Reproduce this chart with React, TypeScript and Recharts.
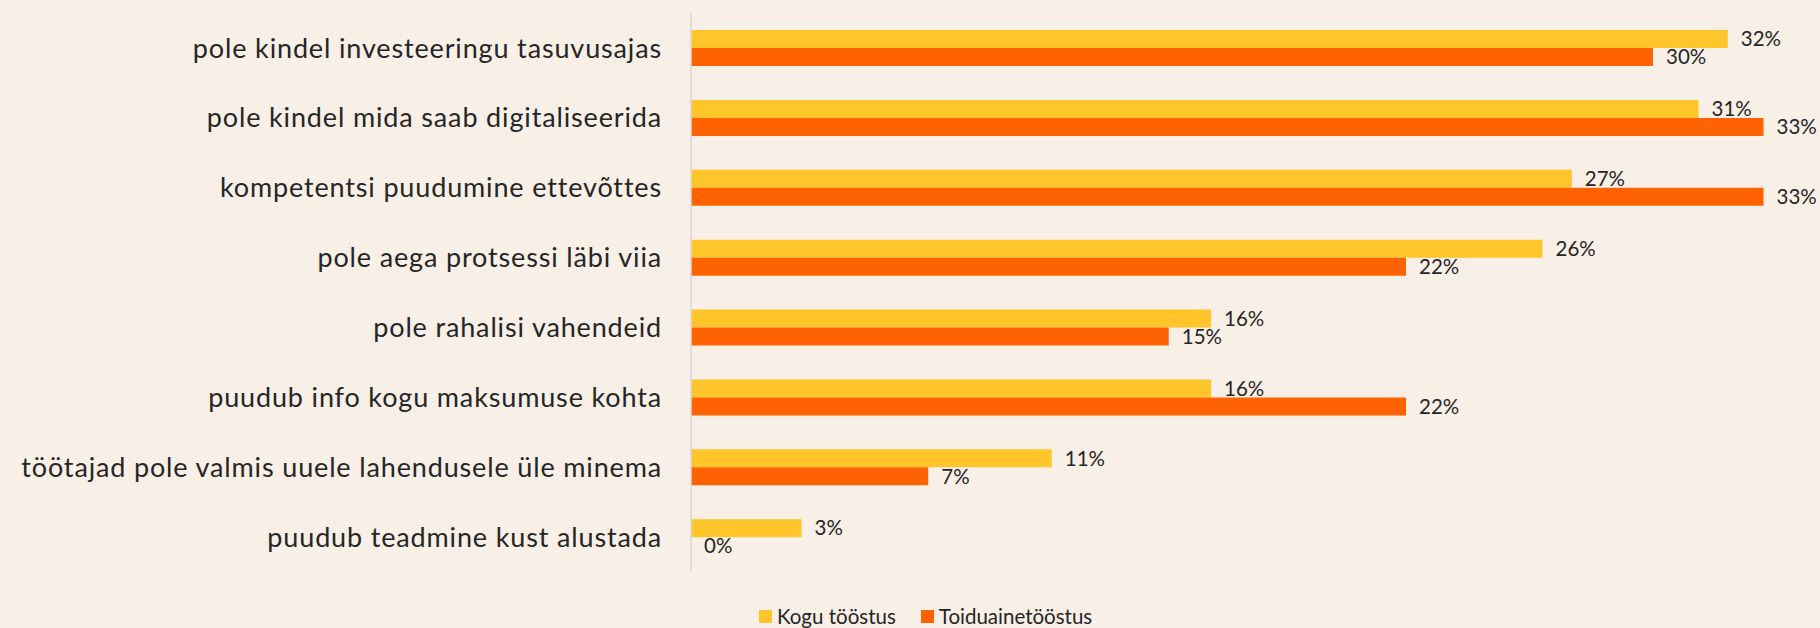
import React from 'react';
import { BarChart, Bar, XAxis, YAxis, Legend, LabelList } from 'recharts';

const categories = [
  'pole kindel investeeringu tasuvusajas',
  'pole kindel mida saab digitaliseerida',
  'kompetentsi puudumine ettevõttes',
  'pole aega protsessi läbi viia',
  'pole rahalisi vahendeid',
  'puudub info kogu maksumuse kohta',
  'töötajad pole valmis uuele lahendusele üle minema',
  'puudub teadmine kust alustada',
];
const koguValues = [31.9, 31.0, 27.1, 26.2, 16.0, 16.0, 11.1, 3.4];
const toiduValues = [29.6, 33.0, 33.0, 22.0, 14.7, 22.0, 7.3, 0];
const seriesNames = ['Kogu tööstus', 'Toiduainetööstus'];
const seriesColors = ['#FFC52A', '#FF6200'];

const data = categories.map((c, i) => ({ name: c, kogu: koguValues[i], toidu: toiduValues[i] }));

const FONT = 'Lato, "Open Sans", sans-serif';
const TEXT = '#262626';

const fmt = (v: any) => `${Math.round(Number(v))}%`;
const minSize = (v: any) => (Number(v) === 0 ? 0.001 : 0);

const LegendContent = () => (
  <div style={{ display: 'flex', alignItems: 'center', paddingLeft: 759, fontFamily: FONT, fontSize: 20.5, color: TEXT }}>
    {seriesNames.map((n, i) => (
      <div key={n} style={{ display: 'flex', alignItems: 'center', marginRight: i === 0 ? 25 : 0 }}>
        <div style={{ width: 13, height: 13, background: seriesColors[i], marginRight: 5 }} />
        <span>{n}</span>
      </div>
    ))}
  </div>
);

export default function App() {
  return (
    <div style={{ position: 'fixed', left: 0, top: 0, width: 1820, height: 628, background: '#F8EFE6', fontFamily: FONT }}>
      <BarChart
        width={1820}
        height={628}
        data={data}
        layout="vertical"
        margin={{ top: 13, right: 24, bottom: 56, left: 0 }}
        barGap={0}
        barSize={18}
      >
        <XAxis type="number" domain={[0, 34]} hide />
        <YAxis
          type="category"
          dataKey="name"
          width={691}
          tickLine={false}
          tickSize={0}
          tickMargin={29}
          axisLine={{ stroke: '#D9D9D9', strokeWidth: 1.5 }}
          tick={{ fill: TEXT, fontSize: 27, fontFamily: FONT, letterSpacing: 0.85 }}
          interval={0}
        />
        <Legend layout="horizontal" verticalAlign="middle" align="center" content={<LegendContent />} wrapperStyle={{ left: 0, top: 604, width: 1820 }} />
        <Bar dataKey="kogu" name={seriesNames[0]} fill={seriesColors[0]} isAnimationActive={false} minPointSize={minSize}>
          <LabelList dataKey="kogu" position="right" offset={13} formatter={fmt} style={{ fill: TEXT, fontSize: 20.5, fontFamily: FONT }} />
        </Bar>
        <Bar dataKey="toidu" name={seriesNames[1]} fill={seriesColors[1]} isAnimationActive={false} minPointSize={minSize}>
          <LabelList dataKey="toidu" position="right" offset={13} formatter={fmt} style={{ fill: TEXT, fontSize: 20.5, fontFamily: FONT }} />
        </Bar>
      </BarChart>
    </div>
  );
}
